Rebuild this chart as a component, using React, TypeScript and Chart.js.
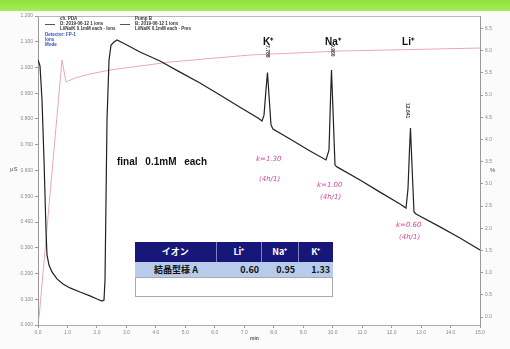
import React, { useEffect, useRef } from "react";
import { Chart, registerables } from "chart.js";
Chart.register(...registerables);

// Conductivity trace (left axis), time in min
const condTime = [0.0, 0.068, 0.136, 0.204, 0.271, 0.305, 0.373, 0.475, 0.645, 0.848, 1.086, 1.425, 1.765, 2.002, 2.172, 2.24, 2.274, 2.308, 2.342, 2.41, 2.478, 2.579, 2.681, 2.952, 3.461, 4.14, 4.819, 5.497, 6.176, 6.855, 7.466, 7.602, 7.67, 7.737, 7.788, 7.839, 7.907, 7.975, 8.552, 9.231, 9.774, 9.876, 9.926, 9.96, 10.011, 10.079, 10.147, 10.928, 11.606, 12.285, 12.489, 12.557, 12.607, 12.641, 12.692, 12.76, 12.828, 13.642, 14.321, 15.0];
const condValue = [1.029, 1.006, 0.874, 0.641, 0.369, 0.272, 0.233, 0.206, 0.179, 0.159, 0.144, 0.128, 0.113, 0.101, 0.093, 0.097, 0.175, 0.485, 0.796, 1.029, 1.087, 1.099, 1.107, 1.091, 1.06, 1.025, 0.982, 0.94, 0.893, 0.846, 0.804, 0.792, 0.815, 0.913, 0.98, 0.893, 0.777, 0.761, 0.722, 0.676, 0.641, 0.68, 0.874, 0.99, 0.835, 0.621, 0.614, 0.563, 0.516, 0.47, 0.454, 0.53, 0.68, 0.765, 0.62, 0.439, 0.431, 0.381, 0.338, 0.291];

// Pump / gradient trace (right axis)
const pumpTime = [0.034, 0.814, 0.95, 1.256, 1.765, 2.443, 4.48, 7.194, 10.249, 15.0];
const pumpValue = [-0.045, 11.577, 10.586, 10.766, 10.946, 11.126, 11.487, 11.802, 11.982, 12.117];

const xTickValues = [0, 1, 2, 3, 4, 5, 6, 7, 8, 9, 10, 11, 12, 13, 14, 15];
const xTickLabels = ["0.0", "1.0", "2.0", "3.0", "4.0", "5.0", "6.0", "7.0", "8.0", "9.0", "10.0", "11.0", "12.0", "13.0", "14.0", "15.0"];
const leftTickValues = [0, 0.1, 0.2, 0.3, 0.4, 0.5, 0.6, 0.7, 0.8, 0.9, 1.0, 1.1, 1.2];
const rightTickValues = [0, 1, 2, 3, 4, 5, 6, 7, 8, 9, 10, 11, 12, 13];
const rightTickLabels = ["0.0", "0.5", "1.0", "1.5", "2.0", "2.5", "3.0", "3.5", "4.0", "4.5", "5.0", "5.5", "6.0", "6.5"];

const peakNames = ["K⁺", "Na⁺", "Li⁺"];
const peakTimes = ["7.788", "9.960", "12.641"];
const tableHeader = ["イオン", "Li⁺", "Na⁺", "K⁺"];
const tableRow = ["結晶型様 A", "0.60", "0.95", "1.33"];

const borderPlugin = {
  id: "topBorder",
  afterDraw(chart: any) {
    const { ctx, chartArea } = chart;
    ctx.save();
    ctx.strokeStyle = "#b8b8b8";
    ctx.lineWidth = 1;
    ctx.beginPath();
    ctx.moveTo(chartArea.left, chartArea.top + 0.5);
    ctx.lineTo(chartArea.right, chartArea.top + 0.5);
    ctx.stroke();
    ctx.restore();
  },
};

export default function App() {
  const ref = useRef<HTMLCanvasElement | null>(null);
  useEffect(() => {
    if (!ref.current) return;
    const tickFont = { size: 5, family: "Arial, Liberation Sans" };
    const chart = new Chart(ref.current, {
      type: "line",
      data: {
        datasets: [
          {
            data: condTime.map((t, i) => ({ x: t, y: condValue[i] })),
            borderColor: "#222222",
            borderWidth: 1.2,
            pointRadius: 0,
            yAxisID: "y",
          },
          {
            data: pumpTime.map((t, i) => ({ x: t, y: pumpValue[i] })),
            borderColor: "#eaa6c0",
            borderWidth: 1,
            pointRadius: 0,
            yAxisID: "y2",
          },
        ],
      },
      options: {
        animation: false,
        responsive: false,
        layout: { padding: { top: 16, left: 0, right: 0, bottom: 0 } },
        plugins: { legend: { display: false }, tooltip: { enabled: false } },
        scales: {
          x: {
            type: "linear",
            min: 0,
            max: 15,
            afterBuildTicks: (s: any) => { s.ticks = xTickValues.map((v) => ({ value: v })); },
            afterFit: (s: any) => { s.height = 24; },
            ticks: { font: tickFont, color: "#888", padding: 2, maxRotation: 0, callback: (_v: any, i: number) => xTickLabels[i] },
            grid: { drawOnChartArea: false, tickLength: 3, color: "#999" },
            border: { color: "#aaa" },
          },
          y: {
            position: "left",
            min: 0,
            max: 1.2,
            afterBuildTicks: (s: any) => { s.ticks = leftTickValues.map((v) => ({ value: v })); },
            afterFit: (s: any) => { s.width = 38; },
            ticks: { font: tickFont, color: "#888", padding: 2, callback: (v: any) => Number(v).toFixed(3) },
            grid: { drawOnChartArea: false, tickLength: 3, color: "#999" },
            border: { color: "#999" },
          },
          y2: {
            position: "right",
            min: -0.36,
            max: 13.56,
            afterBuildTicks: (s: any) => { s.ticks = rightTickValues.map((v) => ({ value: v })); },
            afterFit: (s: any) => { s.width = 30; },
            ticks: { font: tickFont, color: "#888", padding: 2, callback: (_v: any, i: number) => rightTickLabels[i] },
            grid: { drawOnChartArea: false, tickLength: 3, color: "#999" },
            border: { color: "#999" },
          },
        },
      },
      plugins: [borderPlugin],
    } as any);
    return () => chart.destroy();
  }, []);

  const abs = (x: number, y: number, extra: any = {}): any => ({ position: "absolute", left: x, top: y, whiteSpace: "nowrap", ...extra });
  const tiny = { fontFamily: "Arial, Liberation Sans", fontSize: 4.5, lineHeight: "5px", color: "#333", fontWeight: 700 };
  const hand = { fontFamily: "DejaVu Sans", fontStyle: "italic", fontSize: 7, color: "#d04a9a" };
  const peakX = [268, 333, 408];
  const peakTextY = [45, 44, 103];

  return (
    <div style={{ position: "fixed", left: 0, top: 0, width: 510, height: 349, overflow: "hidden", background: "#fbfbfb" }}>
      <div style={{ position: "absolute", left: 0, top: 0, width: 510, height: 11, background: "linear-gradient(#8fe23c, #a5ec5a)" }} />
      <div style={{ position: "absolute", left: 38, top: 16, width: 442, height: 309, background: "#ffffff" }} />
      <canvas ref={ref} width={510} height={349} style={{ position: "absolute", left: 0, top: 0 }} />

      {/* legend */}
      <div style={{ position: "absolute", left: 45, top: 24, width: 10, height: 1, background: "#555" }} />
      <div style={abs(60, 16, tiny)}>ch. PDA</div>
      <div style={abs(60, 21, tiny)}>D: 2019-06-12 1 ions</div>
      <div style={abs(60, 26, tiny)}>Li/Na/K 0.1mM each - Ions</div>
      <div style={{ position: "absolute", left: 120, top: 24, width: 10, height: 1, background: "#555" }} />
      <div style={abs(135, 16, tiny)}>Pump B</div>
      <div style={abs(135, 21, tiny)}>B: 2019-06-12 1 ions</div>
      <div style={abs(135, 26, tiny)}>Li/Na/K 0.1mM each - Pres</div>
      <div style={abs(45, 32, { ...tiny, color: "#3050c0" })}>Detector: FP-1</div>
      <div style={abs(45, 37, { ...tiny, color: "#3050c0" })}>Ions</div>
      <div style={abs(45, 42, { ...tiny, color: "#3050c0" })}>Mode</div>

      {/* axis titles */}
      <div style={abs(10, 166, { fontFamily: "Arial", fontSize: 6, color: "#555" })}>μS</div>
      <div style={abs(490, 167, { fontFamily: "Arial", fontSize: 6, color: "#555" })}>%</div>
      <div style={abs(250, 335, { fontFamily: "Arial", fontSize: 5, color: "#555", fontWeight: 700 })}>min</div>

      {/* peak labels */}
      {peakNames.map((n, i) => (
        <div key={n} style={abs(peakX[i], 34, { transform: "translateX(-50%)", fontFamily: "Arial, Liberation Sans", fontSize: 10, fontWeight: 700, color: "#111" })}>{n}</div>
      ))}
      {peakTimes.map((t, i) => (
        <div key={t} style={abs(peakX[i] - 3, peakTextY[i], { fontFamily: "Arial", fontSize: 5, fontWeight: 700, color: "#333", writingMode: "vertical-rl" })}>{t}</div>
      ))}

      <div style={abs(117, 156, { fontFamily: "Arial, Liberation Sans", fontSize: 10, fontWeight: 700, color: "#111", wordSpacing: 5 })}>final 0.1mM each</div>

      {/* handwritten notes */}
      <div style={abs(256, 155, hand)}>k=1.30</div>
      <div style={abs(259, 175, hand)}>(4h/1)</div>
      <div style={abs(317, 181, hand)}>k=1.00</div>
      <div style={abs(320, 193, hand)}>(4h/1)</div>
      <div style={abs(396, 221, hand)}>k=0.60</div>
      <div style={abs(399, 233, hand)}>(4h/1)</div>

      {/* table */}
      <div style={{ position: "absolute", left: 135, top: 242, width: 198, fontFamily: "'Noto Sans CJK JP', Arial", fontWeight: 700 }}>
        <div style={{ display: "flex", height: 20, background: "#17177a", color: "#fff", fontSize: 9 }}>
          {tableHeader.map((h, i) => (
            <div key={h} style={{ width: [82, 45, 36, 35][i], textAlign: "center", lineHeight: "20px", borderRight: i < 3 ? "1px solid #8080c0" : "none" }}>{h}</div>
          ))}
        </div>
        <div style={{ display: "flex", height: 15, background: "#b8cbea", color: "#111", fontSize: 9 }}>
          {tableRow.map((h, i) => (
            <div key={h} style={{ width: [82, 45, 36, 35][i], textAlign: i === 0 ? "center" : "right", paddingRight: i === 0 ? 0 : 3, boxSizing: "border-box", lineHeight: "15px" }}>{h}</div>
          ))}
        </div>
        <div style={{ height: 20, background: "#fff", border: "1px solid #aaa", boxSizing: "border-box" }} />
      </div>
    </div>
  );
}
